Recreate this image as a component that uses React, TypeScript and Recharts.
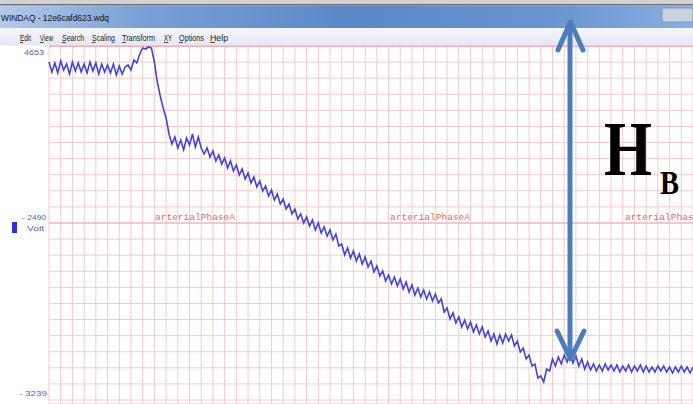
import { LineChart, Line, XAxis, YAxis, CartesianGrid, ReferenceLine } from "recharts";

// WinDAQ trace, one sample every quarter grid division
const SAMPLE_STEP = 0.25;
const trace = [
  // flat start
  338, 328, 337, 327, 339, 330, 336, 326, 338, 329, 337, 328, 336, 327, 338, 329, 337, 326, 336, 328,
  335, 327, 336, 325, 334, 326, 333,
  // rise to the top
  335, 330, 340, 337, 346, 352, 351, 353, 352,
  // sharp drop
  338, 318, 304, 292, 282, 266, 256,
  // shoulder
  263, 252, 260, 250, 262, 255, 266, 253, 263, 252,
  // long decay
  246, 252, 243, 249, 239, 245, 236, 242, 232, 239, 229, 235, 225, 231, 221, 227, 217, 223, 213, 219,
  209, 214, 204, 210, 200, 206, 196, 201, 191, 196, 186, 191, 181, 186, 177, 183, 174, 180, 170, 177,
  167, 173, 164, 170, 160, 166, 154, 156, 145, 152, 142, 149, 139, 146, 136, 143, 133, 139, 128, 134,
  124, 129, 119, 125, 116, 123, 114, 121, 111, 118, 108, 115, 105, 112, 103, 110, 101, 108, 99, 106,
  97, 101, 88, 92, 81, 87, 77, 83, 73, 80, 71, 78, 68, 75, 66, 73, 63, 69, 59, 66,
  56, 65, 57, 66, 59, 65, 54, 59, 48, 52, 41, 45, 34, 36, 22, 24, 18, 31, 29, 41,
  34, 43, 36, 45, 38, 47, 37, 44, 34, 41, 31, 38,
  // baseline
  30, 36, 29, 35, 29, 36, 30, 35, 29, 35, 28, 34, 29, 35, 28, 34, 29, 35, 28, 34,
  28, 33, 28, 34, 29, 34, 28, 33, 27, 33, 28, 34, 28, 33, 27, 33,
];

const chartData = trace.map((v, i) => ({ t: i * SAMPLE_STEP, v }));

const xTicks = Array.from({ length: 56 }, (_, i) => i);
const yTicks = Array.from({ length: 23 }, (_, i) => (i * 354) / 22);

const menuItems = ["Edit", "View", "Search", "Scaling", "Transform", "XY", "Options", "Help"];
const menuX = [20, 40, 62, 92, 122, 164, 179, 210];
const menuW = [11, 13, 22, 23, 33, 8, 25, 18];

const axisLabels = ["4653", "- 2490", "Volt", "- 3239"];
const channelName = "arterialPhaseA";
const channelLabelX = [155, 390, 625];

export default function App() {
  return (
    <div style={{ position: "absolute", left: 0, top: 0, width: 693, height: 404, background: "#fff", overflow: "hidden" }}>
      <LineChart width={693} height={404} data={chartData} margin={{ top: 46, right: 0, bottom: 0, left: 49 }}>
        <CartesianGrid stroke="#f7c9cc" strokeWidth={1} horizontal vertical />
        <XAxis dataKey="t" type="number" domain={[0, 55]} ticks={xTicks} interval={0} hide />
        <YAxis type="number" domain={[-4, 354]} ticks={yTicks} interval={0} hide />
        <ReferenceLine y={177} stroke="#f2aab0" />
        <ReferenceLine y={354} stroke="#ee9ca2" strokeWidth={1.5} />
        <Line
          dataKey="v"
          stroke="#4444d8"
          strokeWidth={1.6}
          dot={false}
          type="linear"
          isAnimationActive={false}
        />
      </LineChart>

      <svg width={693} height={404} style={{ position: "absolute", left: 0, top: 0, pointerEvents: "none" }}>
        <defs>
          <linearGradient id="titleBar" x1="0" x2="1" y1="0" y2="0">
            <stop offset="0" stopColor="#b4cbea" />
            <stop offset="0.2" stopColor="#7aa1d6" />
            <stop offset="0.5" stopColor="#5a88c8" />
            <stop offset="0.8" stopColor="#6895d0" />
            <stop offset="1" stopColor="#8aafdf" />
          </linearGradient>
          <linearGradient id="menuBar" x1="0" x2="0" y1="0" y2="1">
            <stop offset="0" stopColor="#f6f6fc" />
            <stop offset="1" stopColor="#e4e6f2" />
          </linearGradient>
        </defs>

        {/* window chrome */}
        <rect x={0} y={0} width={693} height={5} fill="#d2d2d2" />
        <rect x={0} y={4} width={693} height={1.5} fill="#6a6a6a" />
        <rect x={0} y={5.5} width={693} height={22.5} fill="url(#titleBar)" />
        <rect x={662} y={8} width={31} height={14} rx={2} fill="#c9d3e0" stroke="#8a98ab" />
        <text x={1} y={21} fontSize={9.5} fontFamily="Liberation Sans, Arial, sans-serif" fill="#111" textLength={108} lengthAdjust="spacingAndGlyphs">
          WINDAQ - 12e6cafd623.wdq
        </text>
        <rect x={0} y={28} width={693} height={17.5} fill="url(#menuBar)" />
        {menuItems.map((m, i) => (
          <g key={m}>
            <text
              x={menuX[i]}
              y={41}
              fontSize={9.5}
              fontFamily="Liberation Sans, Arial, sans-serif"
              fill="#222"
              textLength={menuW[i]}
              lengthAdjust="spacingAndGlyphs"
            >
              {m}
            </text>
            <line
              x1={menuX[i]}
              x2={menuX[i] + (menuW[i] / m.length) * 1.1}
              y1={42.5}
              y2={42.5}
              stroke="#222"
              strokeWidth={0.8}
            />
          </g>
        ))}

        {/* y scale labels */}
        <g fontFamily="Liberation Sans, Arial, sans-serif" fontSize={8} fill="#5a5ad0">
          <text x={24} y={55} textLength={20} lengthAdjust="spacingAndGlyphs">{axisLabels[0]}</text>
          <text x={22} y={220} textLength={24} lengthAdjust="spacingAndGlyphs">{axisLabels[1]}</text>
          <text x={27} y={231} textLength={17} lengthAdjust="spacingAndGlyphs">{axisLabels[2]}</text>
          <text x={19} y={396} textLength={28} lengthAdjust="spacingAndGlyphs">{axisLabels[3]}</text>
        </g>
        <rect x={12} y={222} width={5} height={11} fill="#2e2ee6" />

        {/* channel name */}
        {channelLabelX.map((x) => (
          <text key={x} x={x} y={220} fontSize={9.6} fontFamily="Liberation Mono, monospace" fill="#e46a6a" textLength={80} lengthAdjust="spacingAndGlyphs">
            {channelName}
          </text>
        ))}

        {/* H_B arrow annotation */}
        <g stroke="#4a7ebb" strokeWidth={5} strokeLinecap="round" strokeLinejoin="round" fill="none">
          <line x1={570} y1={24} x2={570} y2={356} />
          <polyline points="558,50 570.5,22 583,50" />
          <polyline points="557,331 570.5,359 584,331" />
        </g>
        <text x={604} y={175} fontSize={78} fontWeight="bold" fontFamily="Liberation Serif, Times New Roman, serif" fill="#000" textLength={48} lengthAdjust="spacingAndGlyphs">
          H
        </text>
        <text x={660} y={194} fontSize={34} fontWeight="bold" fontFamily="Liberation Serif, Times New Roman, serif" fill="#000" textLength={19} lengthAdjust="spacingAndGlyphs">
          B
        </text>
      </svg>
    </div>
  );
}
